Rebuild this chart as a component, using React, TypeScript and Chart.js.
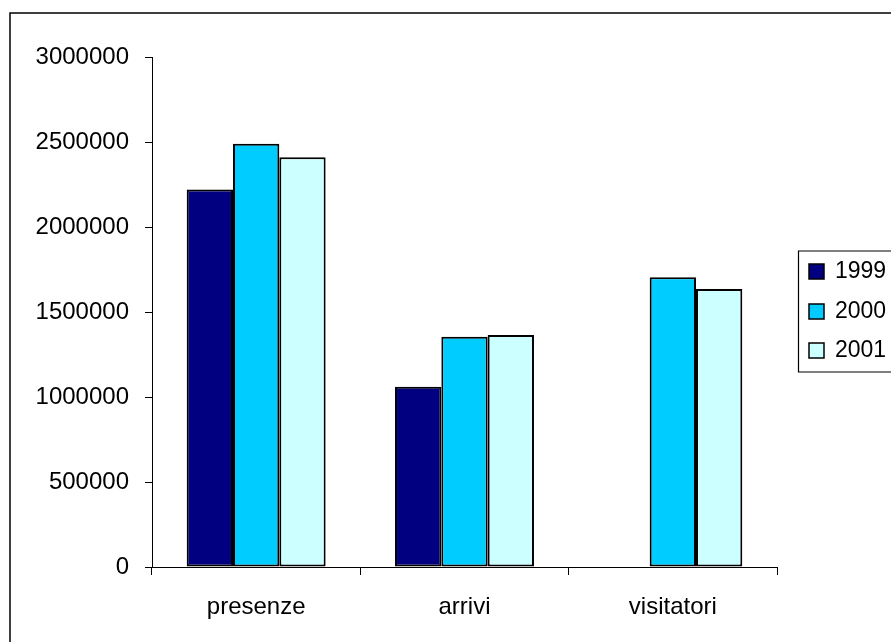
import React, { useEffect, useRef } from "react";
import { Chart, registerables } from "chart.js";

Chart.register(...registerables);

const categories = ["presenze", "arrivi", "visitatori"];
const seriesNames = ["1999", "2000", "2001"];
const values1999 = [2220000, 1060000, 0];
const values2000 = [2490000, 1355000, 1705000];
const values2001 = [2410000, 1365000, 1635000];
const seriesColors = ["#000080", "#00CCFF", "#CCFFFF"];
const yTicks = [0, 500000, 1000000, 1500000, 2000000, 2500000, 3000000];

const FONT = "'Liberation Sans', Arial, sans-serif";

// Outer frame (left and top edges) plus a boxed legend on the right
const framePlugin = {
  id: "frameAndLegend",
  afterDraw(chart: any) {
    const ctx = chart.ctx;
    ctx.save();
    ctx.strokeStyle = "#000";
    ctx.lineWidth = 1.5;
    ctx.beginPath();
    ctx.moveTo(10, 642);
    ctx.lineTo(10, 13);
    ctx.lineTo(891, 13);
    ctx.stroke();

    // legend box
    ctx.lineWidth = 1.2;
    ctx.beginPath();
    ctx.moveTo(895, 251);
    ctx.lineTo(798.5, 251);
    ctx.lineTo(798.5, 372);
    ctx.lineTo(895, 372);
    ctx.stroke();

    const rowY = [271, 311, 350];
    ctx.font = `23px ${FONT}`;
    ctx.textBaseline = "middle";
    ctx.textAlign = "left";
    seriesNames.forEach((name, i) => {
      const y = rowY[i];
      ctx.fillStyle = seriesColors[i];
      ctx.fillRect(809, y - 7, 15, 15);
      ctx.lineWidth = 1.5;
      ctx.strokeStyle = "#000";
      ctx.strokeRect(809, y - 7, 15, 15);
      ctx.fillStyle = "#000";
      ctx.fillText(name, 835, y + 1);
    });
    ctx.restore();
  },
};

export default function App() {
  const canvasRef = useRef<HTMLCanvasElement | null>(null);

  useEffect(() => {
    if (!canvasRef.current) return;
    const data = [values1999, values2000, values2001];
    const chart = new Chart(canvasRef.current, {
      type: "bar",
      data: {
        labels: categories,
        datasets: seriesNames.map((name, i) => ({
          label: name,
          data: data[i],
          backgroundColor: seriesColors[i],
          borderColor: "#000",
          borderWidth: 2,
          borderSkipped: false,
          categoryPercentage: 0.667,
          barPercentage: 1,
        })),
      },
      options: {
        responsive: false,
        animation: false,
        devicePixelRatio: 1,
        layout: { padding: { left: 0, top: 57, right: 114, bottom: 0 } },
        plugins: {
          legend: { display: false },
          tooltip: { enabled: false },
        },
        scales: {
          x: {
            grid: {
              offset: true,
              drawOnChartArea: false,
              drawTicks: true,
              tickLength: 8,
              color: "#000",
            },
            border: { display: true, color: "#000", width: 1 },
            ticks: {
              color: "#000",
              padding: 18,
              font: { family: FONT, size: 24 },
            },
            afterFit: (scale: any) => {
              scale.height = 642 - 567;
            },
          },
          y: {
            min: 0,
            max: 3000000,
            afterBuildTicks: (scale: any) => {
              scale.ticks = yTicks.map((v) => ({ value: v }));
            },
            grid: {
              drawOnChartArea: false,
              drawTicks: true,
              tickLength: 7,
              color: "#000",
            },
            border: { display: true, color: "#000", width: 1 },
            ticks: {
              color: "#000",
              padding: 16,
              font: { family: FONT, size: 24 },
              callback: (v: any) => String(v),
            },
            afterFit: (scale: any) => {
              scale.width = 152;
            },
          },
        },
      },
      plugins: [framePlugin],
    });
    return () => chart.destroy();
  }, []);

  return (
    <div style={{ position: "fixed", left: 0, top: 0, width: 891, height: 642, background: "#fff" }}>
      <canvas ref={canvasRef} width={891} height={642} style={{ display: "block" }} />
    </div>
  );
}
